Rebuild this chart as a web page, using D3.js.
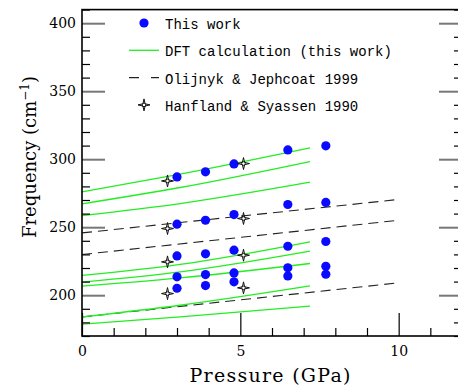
<!DOCTYPE html>
<html>
<head>
<meta charset="utf-8">
<script src="https://cdn.jsdelivr.net/npm/d3@7"></script>
<style>
  body { margin: 0; background: #fff; }
  svg { display: block; }
</style>
</head>
<body>
<div id="chart"></div>
<script>
// tick labels
const xMajor = [0, 5, 10];
const yMajor = [200, 250, 300, 350, 400];

// This work (blue dots): pressure, frequency
const thisWorkP = [3.0, 3.9, 4.8, 6.5, 7.7];
const thisWorkBands = [
    [287.0, 290.7, 296.5, 306.8, 309.8],
    [252.2, 255.1, 259.3, 266.7, 268.2],
    [228.9, 230.4, 233.1, 236.0, 239.5],
    [213.5, 215.2, 216.4, 220.1, 221.3],
    [205.1, 207.1, 209.8, 214.2, 215.4]
];

// DFT calculation (green curves)
const dftP = [0, 3.1, 7.2];
const dftBands = [
    [276.0, 289.0, 308.3],
    [267.2, 279.2, 298.3],
    [258.6, 267.4, 283.1],
    [214.5, 222.6, 239.2],
    [209.6, 217.1, 232.4],
    [206.6, 212.7, 223.3],
    [184.0, 192.6, 206.8],
    [178.7, 184.0, 192.0]
];

// Olijnyk & Jephcoat 1999 (dashed lines)
const olP = [0, 10];
const olBands = [
    [245.8, 270.4],
    [229.9, 255.1],
    [184.0, 209.1]
];

// Hanfland & Syassen 1990 (stars)
const hsP = [2.7, 5.1];
const hsBands = [
    [284.0, 296.8],
    [249.0, 256.4],
    [224.5, 229.4],
    [201.2, 205.4]
];

const legendLabels = ["This work", "DFT calculation (this work)", "Olijnyk & Jephcoat 1999", "Hanfland & Syassen 1990"];

const W = 458, H = 386;
const x = d3.scaleLinear().domain([0, 12]).range([82, 462]);
const y = d3.scaleLinear().domain([170, 410]).range([336, 9.6]);

const svg = d3.select("#chart").append("svg")
    .attr("width", W).attr("height", H)
    .attr("viewBox", `0 0 ${W} ${H}`);

const serif = "'DejaVu Serif', serif";
const mono = "'Liberation Mono', 'DejaVu Sans Mono', monospace";

// data lines
const line = d3.line()
    .curve(d3.curveMonotoneX)
    .x(d => x(d[0]))
    .y(d => y(d[1]));

const plot = svg.append("g");

plot.selectAll(".ol").data(olBands).join("path")
    .attr("class", "ol")
    .attr("fill", "none")
    .attr("stroke", "#222")
    .attr("stroke-width", 1.1)
    .attr("stroke-dasharray", "10,6")
    .attr("d", b => line(b.map((v, i) => [olP[i], v])));

plot.selectAll(".dft").data(dftBands).join("path")
    .attr("class", "dft")
    .attr("fill", "none")
    .attr("stroke", "#22ee22")
    .attr("stroke-width", 1.3)
    .attr("d", b => line(b.map((v, i) => [dftP[i], v])));

const dots = thisWorkBands.flatMap(b => b.map((v, i) => [thisWorkP[i], v]));
plot.selectAll(".dot").data(dots).join("circle")
    .attr("class", "dot")
    .attr("cx", d => x(d[0]))
    .attr("cy", d => y(d[1]))
    .attr("r", 4.6)
    .attr("fill", "#0a0aff");

const starPath = "M0,-6L1.1,-1.1L6,0L1.1,1.1L0,6L-1.1,1.1L-6,0L-1.1,-1.1Z";
function star(g) {
    g.append("path").attr("d", starPath)
        .attr("fill", "none").attr("stroke", "#111").attr("stroke-width", 1);
    g.append("circle").attr("r", 1.8)
        .attr("fill", "#fff").attr("stroke", "#111").attr("stroke-width", 1);
}
const stars = hsBands.flatMap(b => b.map((v, i) => [hsP[i], v]));
plot.selectAll(".star").data(stars).join("g")
    .attr("class", "star")
    .attr("transform", d => `translate(${x(d[0])},${y(d[1])})`)
    .each(function() { star(d3.select(this)); });

// axes
const yMinor = d3.range(170, 411, 10).filter(v => !yMajor.includes(v));
const xMinor = d3.range(0, 13, 1).filter(v => !xMajor.includes(v));

const tidy = g => g.call(g => g.select(".domain").remove());

svg.append("g")
    .attr("transform", `translate(${x(0)},0)`)
    .call(d3.axisLeft(y).tickValues(yMajor).tickSize(-23).tickPadding(6))
    .call(tidy)
    .call(g => g.selectAll(".tick line").attr("stroke", "#777").attr("stroke-width", 2))
    .call(g => g.selectAll(".tick text").attr("font-family", serif).attr("font-size", 14).attr("fill", "#000"));

svg.append("g")
    .attr("transform", `translate(${x(0)},0)`)
    .call(d3.axisLeft(y).tickValues(yMinor).tickSize(-8).tickFormat(""))
    .call(tidy)
    .call(g => g.selectAll(".tick line").attr("stroke", "#000").attr("stroke-width", 1.2));

svg.append("g")
    .attr("transform", `translate(${x(12)},0)`)
    .call(d3.axisRight(y).tickValues(yMajor).tickSize(-23).tickFormat(""))
    .call(tidy)
    .call(g => g.selectAll(".tick line").attr("stroke", "#777").attr("stroke-width", 2));

svg.append("g")
    .attr("transform", `translate(${x(12)},0)`)
    .call(d3.axisRight(y).tickValues(yMinor).tickSize(-8).tickFormat(""))
    .call(tidy)
    .call(g => g.selectAll(".tick line").attr("stroke", "#000").attr("stroke-width", 1.2));

svg.append("g")
    .attr("transform", `translate(0,${y(170)})`)
    .call(d3.axisBottom(x).tickValues(xMajor).tickSize(-23).tickPadding(10))
    .call(tidy)
    .call(g => g.selectAll(".tick line").attr("stroke", "#000").attr("stroke-width", 1.2))
    .call(g => g.selectAll(".tick text").attr("font-family", serif).attr("font-size", 14).attr("fill", "#000"));

svg.append("g")
    .attr("transform", `translate(0,${y(170)})`)
    .call(d3.axisBottom(x).tickValues(xMinor).tickSize(-8).tickFormat(""))
    .call(tidy)
    .call(g => g.selectAll(".tick line").attr("stroke", "#000").attr("stroke-width", 1.2));

// frame
svg.append("rect")
    .attr("x", x(0)).attr("y", y(410))
    .attr("width", x(12) - x(0)).attr("height", y(170) - y(410))
    .attr("fill", "none").attr("stroke", "#000").attr("stroke-width", 1.6);

// axis titles
svg.append("text")
    .attr("x", 270).attr("y", 382)
    .attr("text-anchor", "middle")
    .attr("font-family", serif).attr("font-size", 19)
    .attr("textLength", 161).attr("lengthAdjust", "spacing")
    .text("Pressure (GPa)");

const yt = svg.append("text")
    .attr("transform", "translate(36,157) rotate(-90)")
    .attr("text-anchor", "middle")
    .attr("font-family", serif).attr("font-size", 18);
yt.append("tspan").text("Frequency (cm");
yt.append("tspan").attr("dy", -7).attr("font-size", 12).text("\u22121");
yt.append("tspan").attr("dy", 7).text(")");

// legend
const lg = svg.append("g");
const lx = 129, ly = 23, step = 27.3;
lg.append("circle").attr("cx", lx + 15).attr("cy", ly).attr("r", 4.6).attr("fill", "#0a0aff");
lg.append("line").attr("x1", lx).attr("x2", lx + 30).attr("y1", ly + step).attr("y2", ly + step)
    .attr("stroke", "#22ee22").attr("stroke-width", 1.3);
lg.append("line").attr("x1", lx).attr("x2", lx + 30).attr("y1", ly + 2 * step).attr("y2", ly + 2 * step)
    .attr("stroke", "#222").attr("stroke-width", 1.1).attr("stroke-dasharray", "10,12");
lg.append("g").attr("transform", `translate(${lx + 15},${ly + 3 * step})`).call(star);

lg.selectAll(".lt").data(legendLabels).join("text")
    .attr("class", "lt")
    .attr("x", 165)
    .attr("y", (d, i) => ly + i * step + 6)
    .attr("font-family", mono).attr("font-size", 14)
    .text(d => d);
</script>
</body>
</html>
